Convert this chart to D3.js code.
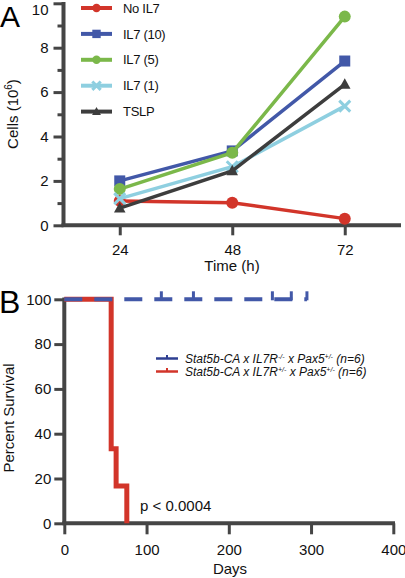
<!DOCTYPE html>
<html><head><meta charset="utf-8">
<script src="https://cdn.jsdelivr.net/npm/d3@7"></script>
<style>
body{margin:0;background:#fff;}
svg{display:block;font-family:"Liberation Sans",Arial,sans-serif;}
</style></head>
<body><svg id="c" width="405" height="578"></svg>
<script>
// ---- Panel A data ----
const timesA = [24, 48, 72];
const seriesNames = ["No IL7", "IL7 (10)", "IL7 (5)", "IL7 (1)", "TSLP"];
const noIL7 = [1.1, 1.02, 0.3];
const il7_10 = [2.0, 3.35, 7.4];
const il7_5 = [1.63, 3.27, 9.4];
const il7_1 = [1.2, 2.64, 5.37];
const tslp = [0.77, 2.45, 6.35];
const seriesColors = ["#d2352a", "#4258a8", "#7bb84a", "#8ecfe0", "#3d3d3d"];
const seriesMarkers = ["circle", "square", "circle", "cross", "triangle"];
const yTicksA = [0, 2, 4, 6, 8, 10];
const xTicksA = [24, 48, 72];

// ---- Panel B data ----
const blueTimes = [0, 295];
const blueSurv = [100, 100];
const blueCensor = [118, 157, 253, 276, 295];
const redTimes = [0, 57, 63, 76];
const redSurv = [100, 33.3, 16.7, 0];
const yTicksB = [0, 20, 40, 60, 80, 100];
const xTicksB = [0, 100, 200, 300, 400];

const svg = d3.select("#c");
const axisCol = "#454545";

// ===== Panel A =====
const xA = d3.scaleLinear().domain([12, 84]).range([63.5, 401]);
const yA = d3.scaleLinear().domain([0, 10]).range([225.3, 3.3]);

function styleAxis(g, w) {
  g.select(".domain").attr("stroke", axisCol).attr("stroke-width", w);
  g.selectAll(".tick line").attr("stroke", axisCol).attr("stroke-width", 3);
  g.selectAll(".tick text").attr("fill", "#111").attr("font-size", 15)
    .attr("font-family", "Liberation Sans, Arial, sans-serif");
}

// minor ticks A
svg.append("g").attr("transform", "translate(63.5,0)")
  .call(d3.axisLeft(yA).tickValues([1,3,5,7,9]).tickSize(6).tickFormat(""))
  .call(g => { g.select(".domain").remove(); g.selectAll(".tick line").attr("stroke", axisCol).attr("stroke-width", 3); });

const yAxA = svg.append("g").attr("transform", "translate(63.5,0)")
  .call(d3.axisLeft(yA).tickValues(yTicksA).tickSize(10).tickSizeOuter(0).tickPadding(5));
styleAxis(yAxA, 4);
yAxA.select(".domain").attr("d", "M0,2V227");
yAxA.selectAll(".tick text").filter(d => d === 10).attr("dy", "0.72em");

const xAxA = svg.append("g").attr("transform", "translate(0,225.3)")
  .call(d3.axisBottom(xA).tickValues(xTicksA).tickSize(10).tickSizeOuter(0).tickPadding(9));
styleAxis(xAxA, 4);
xAxA.select(".domain").attr("d", "M61.5,0H401");

svg.append("text").attr("x", 232).attr("y", 271).attr("text-anchor", "middle")
  .attr("font-size", 15).attr("fill", "#111").text("Time (h)");
const cl = svg.append("text").attr("transform", "translate(18,114) rotate(-90)")
  .attr("text-anchor", "middle").attr("font-size", 15).attr("fill", "#111");
cl.append("tspan").text("Cells (10");
cl.append("tspan").attr("font-size", 10).attr("dy", -6).text("6");
cl.append("tspan").attr("dy", 6).text(")");
svg.append("text").attr("x", 0).attr("y", 27).attr("font-size", 30).attr("fill", "#000").text("A");

const allSeries = [noIL7, il7_10, il7_5, il7_1, tslp];
function drawMarker(g, type, x, y, s, color) {
  if (type === "circle") g.append("circle").attr("cx", x).attr("cy", y).attr("r", s).attr("fill", color);
  else if (type === "square") g.append("rect").attr("x", x - s).attr("y", y - s).attr("width", 2*s).attr("height", 2*s).attr("fill", color);
  else if (type === "triangle") g.append("path").attr("d", `M${x},${y-s*1.1}L${x+s*1.05},${y+s*0.8}L${x-s*1.05},${y+s*0.8}Z`).attr("fill", color);
  else if (type === "cross") g.append("path").attr("d", `M${x-s},${y-s}L${x+s},${y+s}M${x-s},${y+s}L${x+s},${y-s}`).attr("stroke", color).attr("stroke-width", 3);
}
const lineA = d3.line().x((d, i) => xA(timesA[i])).y(d => yA(d));
allSeries.forEach((vals, k) => {
  const g = svg.append("g");
  g.append("path").attr("d", lineA(vals)).attr("fill", "none")
    .attr("stroke", seriesColors[k]).attr("stroke-width", 3.5);
  vals.forEach((v, i) => drawMarker(g, seriesMarkers[k], xA(timesA[i]), yA(v), seriesMarkers[k] === "circle" ? 6 : 5.5, seriesColors[k]));
});

// legend A
seriesNames.forEach((n, k) => {
  const y = 8 + 25.9 * k;
  const g = svg.append("g");
  g.append("line").attr("x1", 81).attr("x2", 112).attr("y1", y).attr("y2", y)
    .attr("stroke", seriesColors[k]).attr("stroke-width", 4);
  drawMarker(g, seriesMarkers[k], 96.5, y, 4.2, seriesColors[k]);
  g.append("text").attr("x", 123).attr("y", y + 4.6).attr("font-size", 13)
    .attr("letter-spacing", -0.3).attr("fill", "#111").text(n);
});

// ===== Panel B =====
const xB = d3.scaleLinear().domain([0, 400]).range([64.3, 393.3]);
const yB = d3.scaleLinear().domain([0, 100]).range([523.3, 299.3]);

const yAxB = svg.append("g").attr("transform", "translate(64.3,0)")
  .call(d3.axisLeft(yB).tickValues(yTicksB).tickSize(10).tickSizeOuter(0).tickPadding(3));
styleAxis(yAxB, 4);
yAxB.select(".domain").attr("d", "M0,297.5V525");

const xAxB = svg.append("g").attr("transform", "translate(0,523.3)")
  .call(d3.axisBottom(xB).tickValues(xTicksB).tickSize(11).tickSizeOuter(0).tickPadding(10));
styleAxis(xAxB, 4);
xAxB.select(".domain").attr("d", "M62.3,0H395");

svg.append("text").attr("x", 230).attr("y", 573.5).attr("text-anchor", "middle")
  .attr("font-size", 15).attr("fill", "#111").text("Days");
svg.append("text").attr("transform", "translate(14,418) rotate(-90)")
  .attr("text-anchor", "middle").attr("font-size", 15).attr("fill", "#111").text("Percent Survival");
svg.append("text").attr("x", -1).attr("y", 313).attr("font-size", 32).attr("fill", "#000").text("B");

const stepLine = d3.line().curve(d3.curveStepAfter);
const redPts = redTimes.map((t, i) => [xB(t), yB(redSurv[i])]);
redPts.push([xB(redTimes[redTimes.length - 1]), yB(0)]);
svg.append("path").attr("d", stepLine(redPts)).attr("fill", "none")
  .attr("stroke", "#d2352a").attr("stroke-width", 5);

const bluePts = blueTimes.map((t, i) => [xB(t), yB(blueSurv[i])]);
svg.append("path").attr("d", stepLine(bluePts)).attr("fill", "none")
  .attr("stroke", "#4258a8").attr("stroke-width", 4).attr("stroke-dasharray", "18,12");
blueCensor.forEach(t => {
  svg.append("line").attr("x1", xB(t)).attr("x2", xB(t)).attr("y1", yB(100) + 1).attr("y2", yB(100) - 8)
    .attr("stroke", "#4258a8").attr("stroke-width", 3);
});

svg.append("text").attr("x", 140).attr("y", 510.5).attr("font-size", 15).attr("fill", "#111").text("p < 0.0004");

// legend B
const legB = [
  {color: "#2e3f92", sup1: "-/-"},
  {color: "#d2352a", sup1: "+/-"}
];
legB.forEach((d, k) => {
  const y = 358.5 + 13 * k;
  svg.append("line").attr("x1", 156).attr("x2", 178).attr("y1", y).attr("y2", y)
    .attr("stroke", d.color).attr("stroke-width", 2.5);
  svg.append("line").attr("x1", 167).attr("x2", 167).attr("y1", y).attr("y2", y - 3.5)
    .attr("stroke", d.color).attr("stroke-width", 2);
  const t = svg.append("text").attr("x", 185).attr("y", y + 4.3).attr("font-size", 12)
    .attr("font-style", "italic").attr("fill", "#111");
  t.append("tspan").text("Stat5b-CA x IL7R");
  t.append("tspan").attr("font-size", 7).attr("dy", -4).text(d.sup1);
  t.append("tspan").attr("dy", 4).text(" x Pax5");
  t.append("tspan").attr("font-size", 7).attr("dy", -4).text("+/-");
  t.append("tspan").attr("dy", 4).text(" (n=6)");
});
</script></body></html>
